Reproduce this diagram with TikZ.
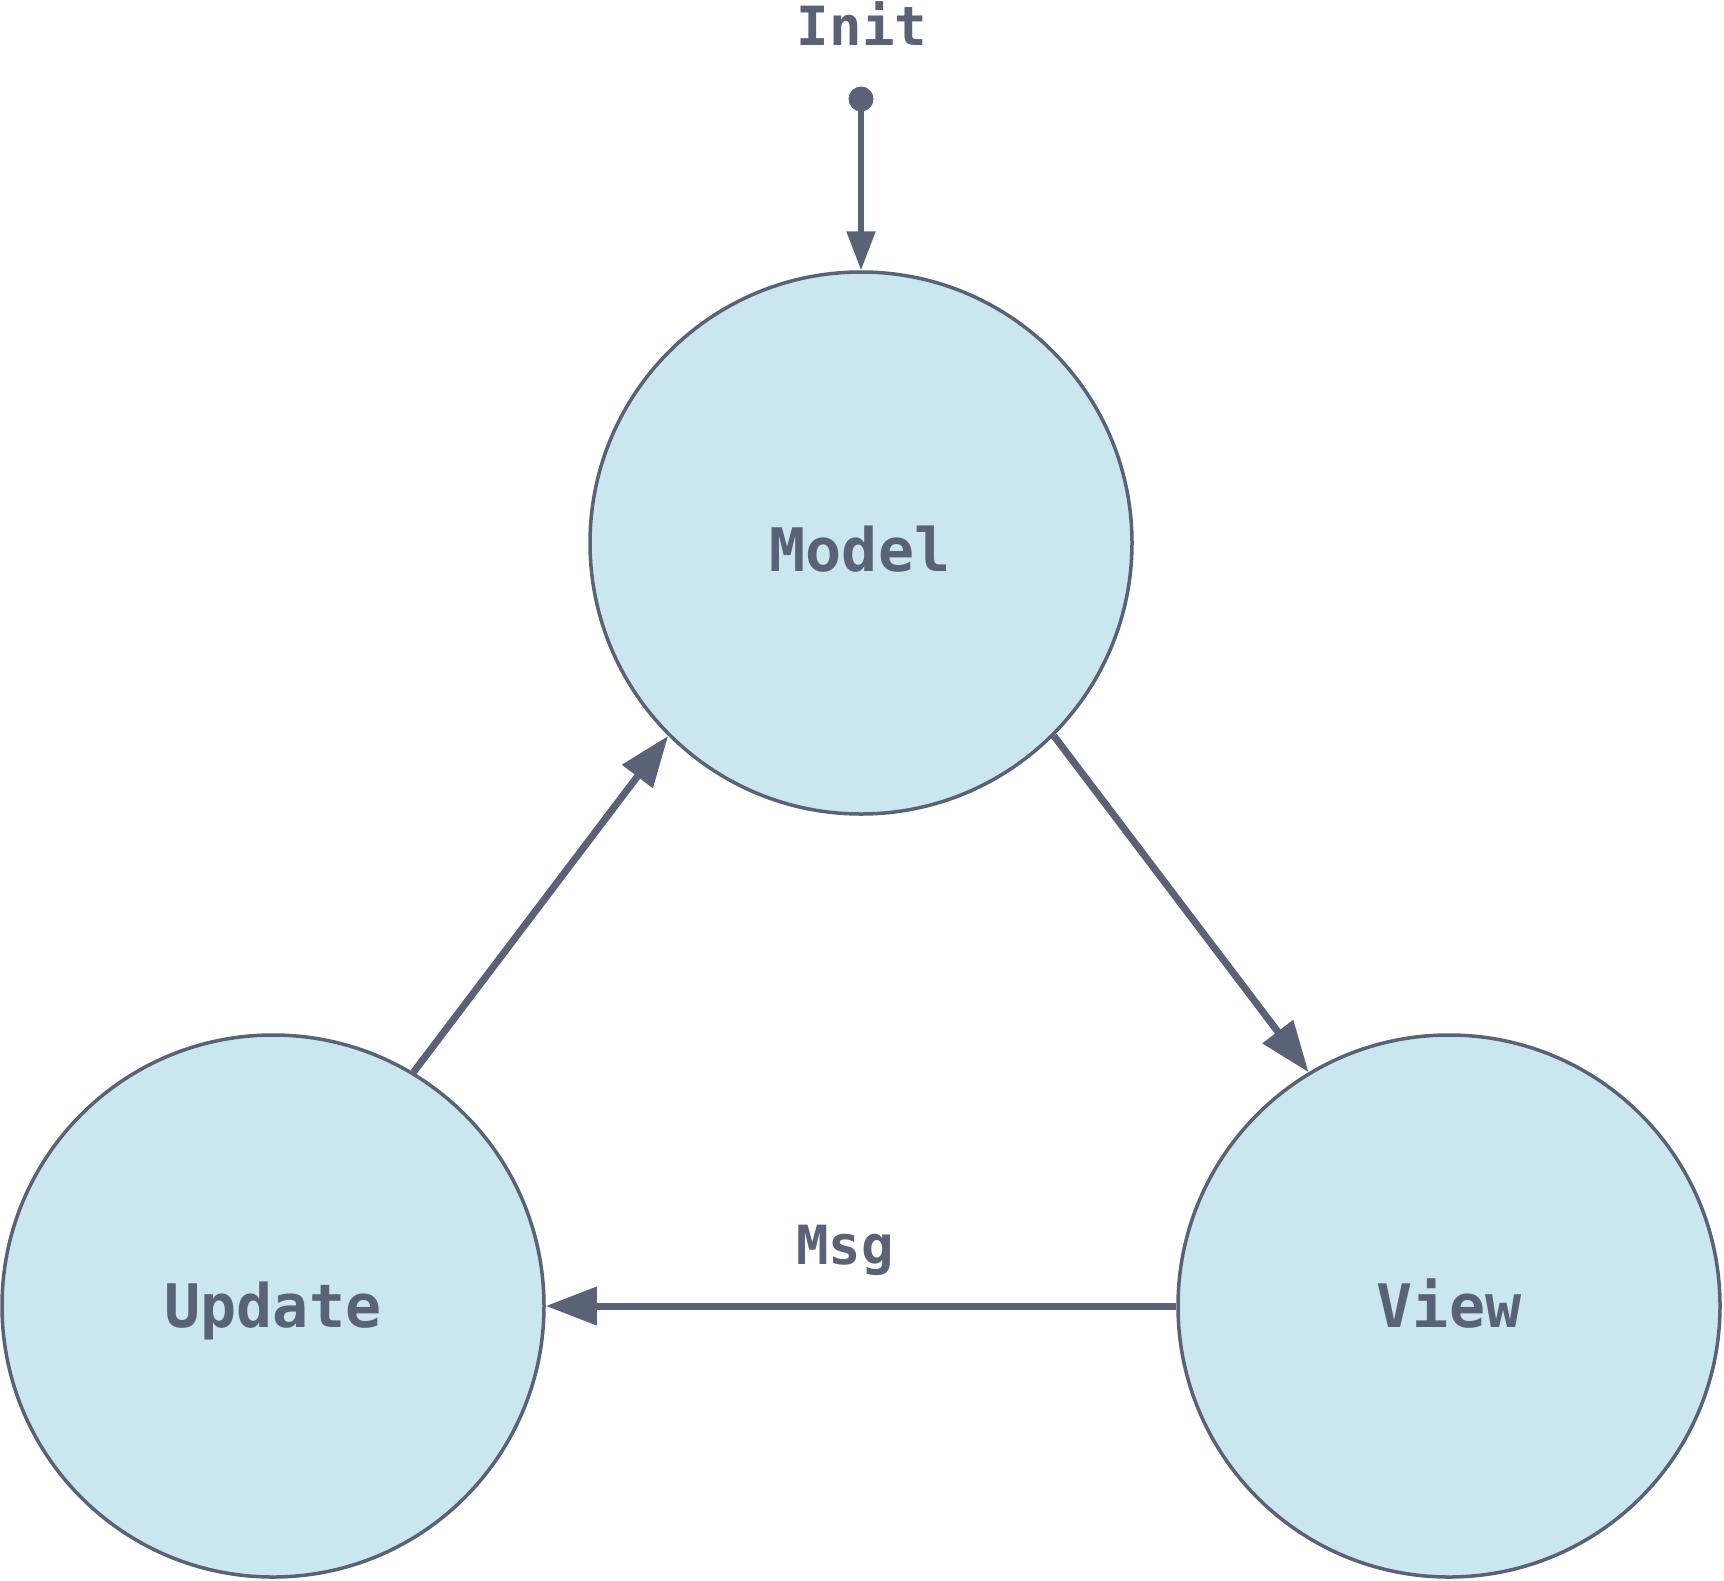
\documentclass[tikz,border=0pt]{standalone}
\usepackage{fontspec}
\setmonofont{DejaVu Sans Mono}
\usetikzlibrary{arrows.meta}
\definecolor{ink}{RGB}{90,98,120}
\definecolor{cfill}{RGB}{202,230,239}
\tikzset{
  statenode/.style={circle, draw=ink, fill=cfill, line width=3.5pt, minimum size=542pt, inner sep=0pt},
  lbl/.style={text=ink, font=\ttfamily\bfseries\fontsize{60}{72}\selectfont, anchor=base, inner sep=0pt},
  smalllbl/.style={text=ink, font=\ttfamily\bfseries\fontsize{54}{64}\selectfont, anchor=base, inner sep=0pt},
  bigarrow/.style={draw=ink, line width=7pt, -{Triangle[length=51pt,width=37pt]}, fill=ink},
  initarrow/.style={draw=ink, line width=5.5pt, -{Triangle[length=39pt,width=28pt]}, fill=ink},
}
\begin{document}
\begin{tikzpicture}[x=1pt,y=-1pt]
\useasboundingbox (0,0) rectangle (1724,1580);
\node[statenode] (Model) at (861,543) {};
\node[statenode] (Update) at (273,1306) {};
\node[statenode] (View) at (1449,1306) {};
\node[lbl] (ModelText) at (860,571) {Model};
\node[lbl] (UpdateText) at (273,1327) {Update};
\node[lbl] (ViewText) at (1449,1327) {View};
\node[smalllbl] (InitText) at (862,45) {Init};
\node[smalllbl] (MsgText) at (845,1264) {Msg};
\node[circle, fill=ink, minimum size=25pt, inner sep=0pt] (initdot) at (861,99) {};
\draw[initarrow] (initdot.center) -- (Model.north);
\draw[bigarrow] (Model.-45) -- (View.121.5);
\draw[bigarrow] (Update.59) -- (Model.-135);
\draw[bigarrow] (View.west) -- (Update.east);
\end{tikzpicture}
\end{document}
